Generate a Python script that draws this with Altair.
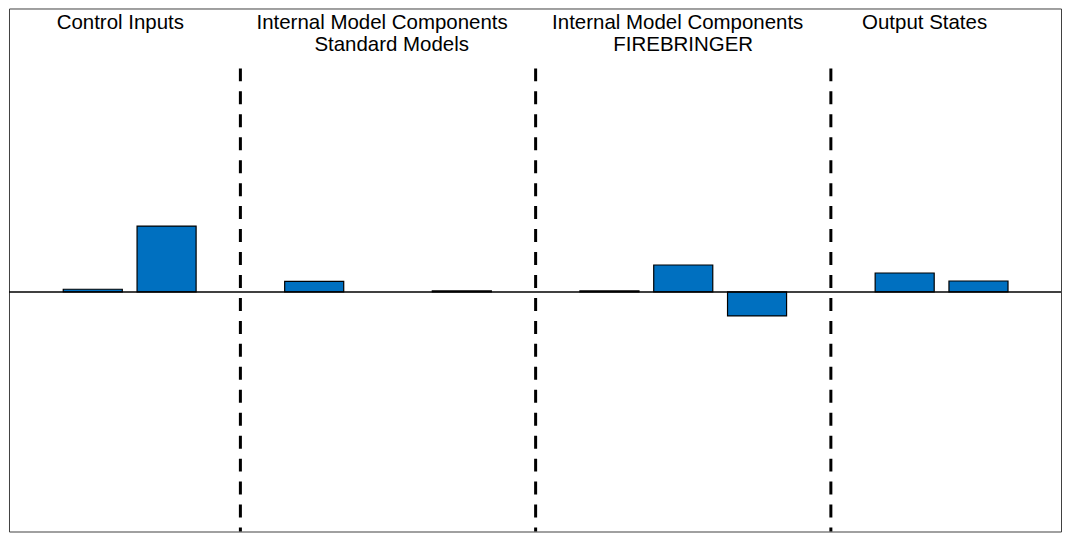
import altair as alt
import pandas as pd

# data
slots = [1, 2, 4, 6, 8, 9, 10, 12, 13]
values = [0.027, 0.66, 0.107, 0.01, 0.01, 0.27, -0.24, 0.19, 0.11]
dividers = [3, 7, 11]
title_lines = ["Control Inputs", "Internal Model Components", "Standard Models",
               "Internal Model Components", "FIREBRINGER", "Output States"]
# layout for the text lines (slot coordinate, line number)
title_x = [1.373, 4.92, 5.05, 8.925, 9.0, 12.27]
title_row = [0, 0, 1, 0, 1, 0]

bars_df = pd.DataFrame({"slot": slots, "value": values})
div_df = pd.DataFrame({"slot": dividers})
txt_df = pd.DataFrame({"label": title_lines, "x": title_x, "row": title_row})

X_DOM = [-0.135, 14.118]
Y_DOM = [-2.40, 2.84]
xs = alt.Scale(domain=X_DOM, nice=False, zero=False)
ys = alt.Scale(domain=Y_DOM, nice=False, zero=False)

bars = alt.Chart(bars_df).transform_calculate(
    x0="datum.slot - 0.4", x1="datum.slot + 0.4"
).mark_bar(color="#0070C0", stroke="black", strokeWidth=1.2).encode(
    x=alt.X("x0:Q", scale=xs, axis=None),
    x2="x1:Q",
    y=alt.Y("value:Q", scale=ys, axis=None),
    y2=alt.datum(0),
)

zero = alt.Chart(pd.DataFrame({"y": [0]})).mark_rule(color="black", strokeWidth=1.5).encode(
    y=alt.Y("y:Q", scale=ys, axis=None)
)

divs = alt.Chart(div_df).transform_calculate(
    top="2.24", bot="-2.40"
).mark_rule(color="black", strokeWidth=3, strokeDash=[13, 10]).encode(
    x=alt.X("slot:Q", scale=xs, axis=None),
    y=alt.Y("top:Q", scale=ys, axis=None),
    y2="bot:Q",
)

texts = alt.Chart(txt_df).transform_calculate(
    yy="2.69 - datum.row * 0.22"
).mark_text(font="Liberation Sans", fontSize=20.5, color="black", align="center", baseline="middle").encode(
    x=alt.X("x:Q", scale=xs, axis=None),
    y=alt.Y("yy:Q", scale=ys, axis=None),
    text="label:N",
)

chart = alt.layer(bars, zero, divs, texts).properties(
    width=1054, height=524, padding=0
).configure_view(stroke="#404040", strokeWidth=1)

chart.save("out.html", embed_options={"renderer": "svg", "actions": False})
